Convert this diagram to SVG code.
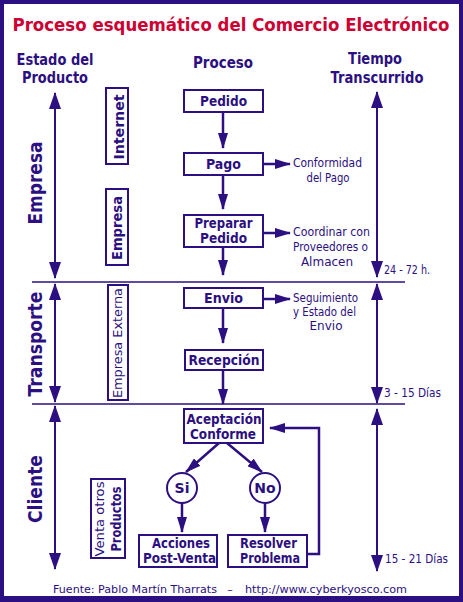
<svg xmlns="http://www.w3.org/2000/svg" width="463" height="602" viewBox="0 0 463 602">
<style>
text{font-family:"DejaVu Sans",Verdana,sans-serif;fill:#2c0f80;}
.b{font-weight:bold;}
.t{font-size:17px;font-weight:bold;fill:#cc0033;}
.h{font-size:15px;font-weight:bold;}
.big{font-size:20px;font-weight:bold;}
.bx{font-size:14px;font-weight:bold;}
.sm{font-size:12px;}
.lab{font-size:13px;}
.box{fill:#fff;stroke:#2c0f80;stroke-width:2;}
.ln{stroke:#2c0f80;stroke-width:2.5;fill:none;}
.bl{stroke:#2c0f80;stroke-width:2;fill:none;}
.sep{stroke:#2c0f80;stroke-width:1.5;}
</style>
<defs>
<marker id="ah" viewBox="0 0 16 10" markerWidth="16" markerHeight="10" refX="15" refY="5" orient="auto-start-reverse" markerUnits="userSpaceOnUse"><path d="M0,0L16,5L0,10z" fill="#2c0f80"/></marker>
<marker id="bh" viewBox="0 0 17 12" markerWidth="17" markerHeight="12" refX="16" refY="6" orient="auto-start-reverse" markerUnits="userSpaceOnUse"><path d="M0,0L17,6L0,12z" fill="#2c0f80"/></marker>
</defs>
<rect x="0" y="0" width="463" height="602" fill="#2c0f80"/>
<rect x="4" y="4" width="455" height="592" fill="#fff"/>

<g id="title">
<text class="t" x="231" y="31" text-anchor="middle" textLength="437" lengthAdjust="spacingAndGlyphs">Proceso esquemático del Comercio Electrónico</text>
</g>
<g id="headers">
<text class="h" x="55" y="65" text-anchor="middle" textLength="77" lengthAdjust="spacingAndGlyphs">Estado del</text>
<text class="h" x="55" y="83" text-anchor="middle" textLength="66" lengthAdjust="spacingAndGlyphs">Producto</text>
<text class="h" x="223" y="68" text-anchor="middle" textLength="60" lengthAdjust="spacingAndGlyphs">Proceso</text>
<text class="h" x="375" y="64" text-anchor="middle" textLength="54" lengthAdjust="spacingAndGlyphs">Tiempo</text>
<text class="h" x="377" y="83" text-anchor="middle" textLength="93" lengthAdjust="spacingAndGlyphs">Transcurrido</text>
</g>

<g id="connectors">
<line class="sep" x1="32" y1="282" x2="405" y2="282"/>
<line class="sep" x1="32" y1="404" x2="405" y2="404"/>
<line class="bl" x1="55" y1="93" x2="55" y2="278" marker-start="url(#bh)" marker-end="url(#bh)"/>
<line class="bl" x1="55" y1="284" x2="55" y2="402" marker-start="url(#bh)" marker-end="url(#bh)"/>
<line class="bl" x1="55" y1="406" x2="55" y2="569" marker-start="url(#bh)" marker-end="url(#bh)"/>
<line class="bl" x1="377" y1="92" x2="377" y2="277" marker-start="url(#bh)" marker-end="url(#bh)"/>
<line class="bl" x1="377" y1="284" x2="377" y2="403" marker-start="url(#bh)" marker-end="url(#bh)"/>
<line class="bl" x1="377" y1="409" x2="377" y2="571" marker-start="url(#bh)" marker-end="url(#bh)"/>
<line class="ln" x1="223" y1="112" x2="223" y2="148" marker-end="url(#ah)"/>
<line class="ln" x1="223" y1="175" x2="223" y2="209" marker-end="url(#ah)"/>
<line class="ln" x1="223" y1="247" x2="223" y2="275" marker-end="url(#ah)"/>
<line class="ln" x1="223" y1="308" x2="223" y2="343" marker-end="url(#ah)"/>
<line class="ln" x1="223" y1="370" x2="223" y2="404" marker-end="url(#ah)"/>
<line class="ln" x1="263" y1="164" x2="290" y2="164" marker-end="url(#ah)"/>
<line class="ln" x1="263" y1="233" x2="290" y2="233" marker-end="url(#ah)"/>
<line class="ln" x1="263" y1="299" x2="290" y2="299" marker-end="url(#ah)"/>
<line class="ln" x1="219" y1="443" x2="186" y2="472" marker-end="url(#ah)"/>
<line class="ln" x1="227" y1="443" x2="262" y2="472" marker-end="url(#ah)"/>
<line class="ln" x1="182" y1="503" x2="182" y2="532" marker-end="url(#ah)"/>
<line class="ln" x1="265" y1="503" x2="265" y2="532" marker-end="url(#ah)"/>
<polyline class="ln" points="307,554 319,554 319,428 270,428" marker-end="url(#ah)"/>
</g>

<g id="lbl-empresa"><text class="big" transform="translate(42,183) rotate(-90)" text-anchor="middle" textLength="83" lengthAdjust="spacingAndGlyphs">Empresa</text></g>
<g id="lbl-transporte"><text class="big" transform="translate(42,344) rotate(-90)" text-anchor="middle" textLength="105" lengthAdjust="spacingAndGlyphs">Transporte</text></g>
<g id="lbl-cliente"><text class="big" transform="translate(42,489) rotate(-90)" text-anchor="middle" textLength="68" lengthAdjust="spacingAndGlyphs">Cliente</text></g>

<g id="v-internet"><rect class="box" x="106" y="88" width="22" height="76"/><text class="bx" transform="translate(124,127) rotate(-90)" text-anchor="middle" textLength="65" lengthAdjust="spacingAndGlyphs">Internet</text></g>
<g id="v-empresa"><rect class="box" x="106" y="189" width="22" height="76"/><text class="bx" transform="translate(122,228) rotate(-90)" text-anchor="middle" textLength="64" lengthAdjust="spacingAndGlyphs">Empresa</text></g>
<g id="v-externa"><rect class="box" x="108" y="285" width="20" height="115"/><text class="lab" transform="translate(122,343) rotate(-90)" text-anchor="middle" textLength="110" lengthAdjust="spacingAndGlyphs">Empresa Externa</text></g>
<g id="v-venta"><rect class="box" x="91" y="479" width="34" height="79"/><text class="lab" transform="translate(104,519) rotate(-90)" text-anchor="middle" textLength="75" lengthAdjust="spacingAndGlyphs">Venta otros</text><text class="bx" transform="translate(121,519) rotate(-90)" text-anchor="middle" textLength="65" lengthAdjust="spacingAndGlyphs">Productos</text></g>

<g id="pedido"><rect class="box" x="184" y="90" width="79" height="22"/><text class="bx" x="223.5" y="106" text-anchor="middle" textLength="47" lengthAdjust="spacingAndGlyphs">Pedido</text></g>
<g id="pago"><rect class="box" x="184" y="153" width="79" height="22"/><text class="bx" x="223.5" y="169" text-anchor="middle" textLength="35" lengthAdjust="spacingAndGlyphs">Pago</text></g>
<g id="preparar"><rect class="box" x="184" y="215" width="79" height="32"/><text class="bx" x="223.5" y="228" text-anchor="middle" textLength="58" lengthAdjust="spacingAndGlyphs">Preparar</text><text class="bx" x="223.5" y="243" text-anchor="middle" textLength="47" lengthAdjust="spacingAndGlyphs">Pedido</text></g>
<g id="envio"><rect class="box" x="184" y="288" width="79" height="20"/><text class="bx" x="223.5" y="303" text-anchor="middle" textLength="39" lengthAdjust="spacingAndGlyphs">Envio</text></g>
<g id="recepcion"><rect class="box" x="185" y="350" width="78" height="20"/><text class="bx" x="224" y="365" text-anchor="middle" textLength="71" lengthAdjust="spacingAndGlyphs">Recepción</text></g>
<g id="aceptacion"><rect class="box" x="184" y="409" width="79" height="34"/><text class="bx" x="224" y="424" text-anchor="middle" textLength="75" lengthAdjust="spacingAndGlyphs">Aceptación</text><text class="bx" x="223" y="439" text-anchor="middle" textLength="66" lengthAdjust="spacingAndGlyphs">Conforme</text></g>
<g id="si"><circle class="box" cx="182" cy="488" r="15"/><text class="bx" x="182" y="493" text-anchor="middle">Si</text></g>
<g id="no"><circle class="box" cx="265" cy="488" r="15"/><text class="bx" x="265" y="493" text-anchor="middle">No</text></g>
<g id="acciones"><rect class="box" x="139" y="535" width="78" height="32"/><text class="bx" x="181" y="548" text-anchor="middle" textLength="58" lengthAdjust="spacingAndGlyphs">Acciones</text><text class="bx" x="179.5" y="563" text-anchor="middle" textLength="73" lengthAdjust="spacingAndGlyphs">Post-Venta</text></g>
<g id="resolver"><rect class="box" x="228" y="535" width="79" height="32"/><text class="bx" x="268.5" y="548" text-anchor="middle" textLength="57" lengthAdjust="spacingAndGlyphs">Resolver</text><text class="bx" x="270" y="563" text-anchor="middle" textLength="60" lengthAdjust="spacingAndGlyphs">Problema</text></g>

<g id="n-conformidad"><text class="sm" x="327.5" y="167" text-anchor="middle" textLength="69" lengthAdjust="spacingAndGlyphs">Conformidad</text><text class="sm" x="328" y="182" text-anchor="middle" textLength="43" lengthAdjust="spacingAndGlyphs">del Pago</text></g>
<g id="n-coordinar"><text class="sm" x="331.5" y="236" text-anchor="middle" textLength="77" lengthAdjust="spacingAndGlyphs">Coordinar con</text><text class="sm" x="330.5" y="251" text-anchor="middle" textLength="75" lengthAdjust="spacingAndGlyphs">Proveedores o</text><text class="sm" x="327" y="266" text-anchor="middle">Almacen</text></g>
<g id="n-seguimiento"><text class="sm" x="325.5" y="302" text-anchor="middle" textLength="65" lengthAdjust="spacingAndGlyphs">Seguimiento</text><text class="sm" x="324.5" y="316" text-anchor="middle" textLength="63" lengthAdjust="spacingAndGlyphs">y Estado del</text><text class="sm" x="326" y="330" text-anchor="middle">Envio</text></g>

<g id="t-24"><text class="sm" x="384" y="274" textLength="46" lengthAdjust="spacingAndGlyphs">24 - 72 h.</text></g>
<g id="t-3"><text class="sm" x="384" y="397" textLength="57" lengthAdjust="spacingAndGlyphs">3 - 15 Días</text></g>
<g id="t-15"><text class="sm" x="385" y="563" textLength="63" lengthAdjust="spacingAndGlyphs">15 - 21 Días</text></g>

<g id="footer">
<text class="sm" x="53" y="593" textLength="164" lengthAdjust="spacingAndGlyphs" style="font-size:11px">Fuente:  Pablo Martín Tharrats</text>
<text class="sm" x="230" y="593" text-anchor="middle" style="font-size:11px">–</text>
<text class="sm" x="245" y="593" textLength="162" lengthAdjust="spacingAndGlyphs" style="font-size:11px">http://www.cyberkyosco.com</text>
</g>
</svg>
